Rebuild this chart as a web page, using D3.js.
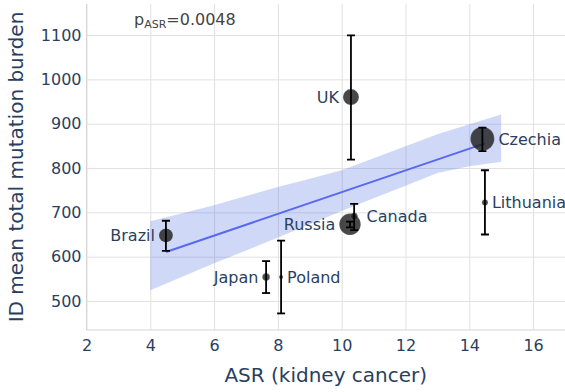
<!DOCTYPE html>
<html>
<head>
<meta charset="utf-8">
<script src="https://cdn.jsdelivr.net/npm/d3@7"></script>
<style>
  html, body { margin: 0; padding: 0; background: #fff; }
  svg { display: block; font-family: "DejaVu Sans", Verdana, sans-serif; }
</style>
</head>
<body>
<svg id="chart" width="565" height="392"></svg>
<script>
// Per-country kidney cancer incidence (ASR) vs. ID mean total mutation burden
const countries = ["Brazil", "Japan", "Poland", "Russia", "Canada", "UK", "Czechia", "Lithuania"];
const asr       = [4.49, 7.63, 8.10, 10.26, 10.39, 10.29, 14.41, 14.49];
const meanTMB   = [648, 554, 554, 673, 691, 960, 866, 722];
const ciLow     = [613, 518, 472, 666, 660, 819, 838, 650];
const ciHigh    = [681, 590, 636, 679, 719, 1099, 891, 795];
const cohortN   = [49, 14, 4, 115, 12, 64, 144, 9];
const labelSide = ["left", "left", "right", "left", "right", "left", "right", "right"];

// Linear fit and its confidence band
const fitIntercept = 500.5;
const fitSlope = 24.5;
const bandX     = [4, 5, 6, 7, 8, 9, 10, 11, 12, 13, 14, 15];
const bandLower = [524, 555, 585, 614, 643, 673, 703, 732, 760, 789, 804, 814];
const bandUpper = [680, 698, 716, 737, 757, 776, 795, 822, 849, 876, 899, 921];

const xTicks = [2, 4, 6, 8, 10, 12, 14, 16];
const yTicks = [500, 600, 700, 800, 900, 1000, 1100];
const pValue = "0.0048";

(function draw() {
  const svg = d3.select("#chart");
  const pL = 86.5, pR = 565, pT = 4, pB = 330;

  const x = d3.scaleLinear().domain([2, 17]).range([pL, pR]);
  const y = d3.scaleLinear().domain([434.6, 1170]).range([pB, pT]);
  const r = d3.scaleSqrt().domain([0, 144]).range([0, 12]);

  const textColor = "#2a3f5f";
  const gridColor = "#e1e1e1";
  const font = "DejaVu Sans, Verdana, sans-serif";

  // Gridlines
  const gx = svg.append("g").attr("transform", `translate(0,${pB})`)
    .call(d3.axisBottom(x).tickValues(xTicks).tickSize(-(pB - pT)).tickFormat(""));
  gx.select(".domain").remove();
  gx.selectAll("line").attr("stroke", gridColor).attr("stroke-width", 1);

  const gy = svg.append("g").attr("transform", `translate(${pL},0)`)
    .call(d3.axisLeft(y).tickValues(yTicks).tickSize(-(pR - pL)).tickFormat(""));
  gy.select(".domain").remove();
  gy.selectAll("line").attr("stroke", gridColor).attr("stroke-width", 1);

  // Axis lines
  svg.append("line").attr("x1", pL).attr("x2", pR).attr("y1", pB).attr("y2", pB)
    .attr("stroke", "#d6d6d6").attr("stroke-width", 1);
  svg.append("line").attr("x1", pL).attr("x2", pL).attr("y1", pT).attr("y2", pB)
    .attr("stroke", "#d6d6d6").attr("stroke-width", 1);

  // Tick labels
  const ax = svg.append("g").attr("transform", `translate(0,${pB})`)
    .call(d3.axisBottom(x).tickValues(xTicks).tickSize(0).tickPadding(10).tickFormat(d3.format("d")));
  ax.select(".domain").remove();
  ax.selectAll("text").attr("fill", textColor).style("font-size", "16px").style("font-family", font);

  const ay = svg.append("g").attr("transform", `translate(${pL},0)`)
    .call(d3.axisLeft(y).tickValues(yTicks).tickSize(0).tickPadding(5).tickFormat(d3.format("d")));
  ay.select(".domain").remove();
  ay.selectAll("text").attr("fill", textColor).style("font-size", "16px").style("font-family", font);

  // Axis titles
  svg.append("text").attr("x", (pL + pR) / 2).attr("y", 382)
    .attr("text-anchor", "middle").attr("fill", textColor).style("font-size", "20px")
    .text("ASR (kidney cancer)");
  svg.append("text").attr("transform", `translate(23,${(pT + pB) / 2}) rotate(-90)`)
    .attr("text-anchor", "middle").attr("fill", textColor).style("font-size", "20px")
    .text("ID mean total mutation burden");

  // Plot clip
  svg.append("clipPath").attr("id", "plotClip").append("rect")
    .attr("x", pL).attr("y", pT).attr("width", pR - pL).attr("height", pB - pT);
  const plot = svg.append("g").attr("clip-path", "url(#plotClip)");

  // Confidence band
  const bandData = bandX.map((v, i) => ({ x: v, lo: bandLower[i], hi: bandUpper[i] }));
  plot.append("path").datum(bandData)
    .attr("d", d3.area().x(d => x(d.x)).y0(d => y(d.lo)).y1(d => y(d.hi)))
    .attr("fill", "rgba(65,105,225,0.25)");

  // Fit line over the observed ASR range
  const xMin = d3.min(asr), xMax = d3.max(asr);
  plot.append("line")
    .attr("x1", x(xMin)).attr("y1", y(fitIntercept + fitSlope * xMin))
    .attr("x2", x(xMax)).attr("y2", y(fitIntercept + fitSlope * xMax))
    .attr("stroke", "#5a68f0").attr("stroke-width", 2);

  const pts = countries.map((c, i) => ({
    name: c, x: asr[i], y: meanTMB[i], lo: ciLow[i], hi: ciHigh[i], n: cohortN[i], side: labelSide[i]
  }));
  const rad = d => Math.max(2, r(d.n));

  // Markers
  plot.selectAll("circle.pt").data(pts).enter().append("circle")
    .attr("class", "pt")
    .attr("cx", d => x(d.x)).attr("cy", d => y(d.y))
    .attr("r", rad)
    .attr("fill", "#1a1a1a").attr("fill-opacity", 0.8)
    .attr("stroke", "rgba(255,255,255,0.35)").attr("stroke-width", 0.5);

  // Error bars
  const cap = 4;
  const eb = plot.selectAll("g.err").data(pts).enter().append("g").attr("class", "err")
    .attr("stroke", "#000").attr("stroke-width", 1.8);
  eb.append("line").attr("x1", d => x(d.x)).attr("x2", d => x(d.x))
    .attr("y1", d => y(d.lo)).attr("y2", d => y(d.hi));
  eb.append("line").attr("x1", d => x(d.x) - cap).attr("x2", d => x(d.x) + cap)
    .attr("y1", d => y(d.lo)).attr("y2", d => y(d.lo));
  eb.append("line").attr("x1", d => x(d.x) - cap).attr("x2", d => x(d.x) + cap)
    .attr("y1", d => y(d.hi)).attr("y2", d => y(d.hi));

  // Country labels
  svg.selectAll("text.lbl").data(pts).enter().append("text")
    .attr("class", "lbl")
    .attr("x", d => {
      const off = rad(d) + 4 + (d.name === "Canada" ? 5 : 0);
      return d.side === "left" ? x(d.x) - off : x(d.x) + off;
    })
    .attr("y", d => y(d.y))
    .attr("dy", "0.36em")
    .attr("text-anchor", d => d.side === "left" ? "end" : "start")
    .attr("fill", textColor).style("font-size", "16px")
    .text(d => d.name);

  // p-value annotation
  const ann = svg.append("text").attr("x", 134).attr("y", 25)
    .attr("fill", "#444").style("font-size", "16px");
  ann.append("tspan").text("p");
  ann.append("tspan").attr("dy", 3).style("font-size", "11px").text("ASR");
  ann.append("tspan").attr("dy", -3).text("=" + pValue);
})();
</script>
</body>
</html>
